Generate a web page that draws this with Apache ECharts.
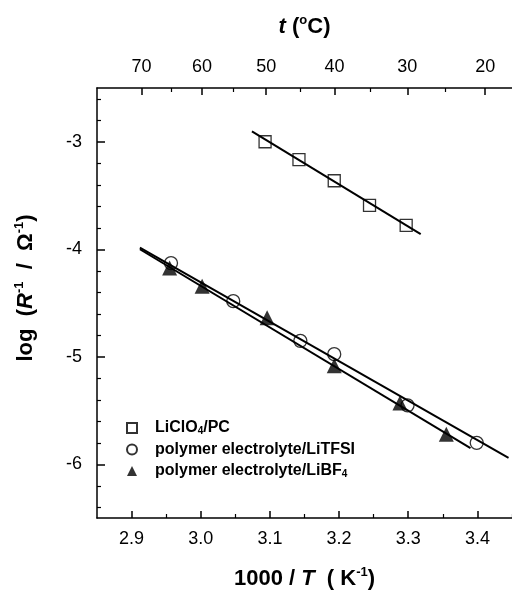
<!DOCTYPE html>
<html>
<head>
<meta charset="utf-8">
<script src="https://cdn.jsdelivr.net/npm/echarts@6/dist/echarts.min.js"></script>
<style>
html,body{margin:0;padding:0;background:#fff;}
#chart{width:512px;height:595px;}
</style>
</head>
<body>
<div id="chart"></div>
<script>
// ---- data ----
const seriesNames = ['LiClO4/PC', 'polymer electrolyte/LiTFSI', 'polymer electrolyte/LiBF4'];
const pcX = [3.093, 3.142, 3.193, 3.244, 3.297];
const pcY = [-3.00, -3.166, -3.363, -3.591, -3.778];
const tfsiX = [2.957, 3.047, 3.144, 3.193, 3.299, 3.399];
const tfsiY = [-4.129, -4.483, -4.852, -4.976, -5.452, -5.801];
const bf4X = [2.955, 3.002, 3.096, 3.193, 3.288, 3.355];
const bf4Y = [-4.175, -4.344, -4.637, -5.083, -5.431, -5.720];
// fitted lines (end points)
const pcFitX = [3.074, 3.318];
const pcFitY = [-2.904, -3.859];
const tfsiFitX = [2.912, 3.445];
const tfsiFitY = [-3.984, -5.94];
const bf4FitX = [2.912, 3.39];
const bf4FitY = [-4.00, -5.85];
// axis ticks
const xMajor = [2.9, 3.0, 3.1, 3.2, 3.3, 3.4];
const xMinor = [2.95, 3.05, 3.15, 3.25, 3.35, 3.45];
const tMajor = [70, 60, 50, 40, 30, 20];
const tMinor = [65, 55, 45, 35, 25];
const yMajor = [-6, -5, -4, -3];
const yMinor = [-6.4, -6.2, -5.8, -5.6, -5.4, -5.2, -4.8, -4.6, -4.4, -4.2, -3.8, -3.6, -3.4, -3.2, -2.8, -2.6];

const toInvT = t => 1000 / (t + 273.15);
const zip = (a, b) => a.map((v, i) => [v, b[i]]);

const FONT = '"Liberation Sans", Arial, Helvetica, sans-serif';
const XMIN = 2.85, XMAX = 3.45, YMIN = -6.5, YMAX = -2.5;

const labelStyle = {color: '#000', fontSize: 18, fontFamily: FONT};
const titleRich = {
  n: {fontSize: 22, fontWeight: 'bold', fontFamily: FONT, color: '#000'},
  i: {fontSize: 22, fontWeight: 'bold', fontStyle: 'italic', fontFamily: FONT, color: '#000'},
  sup: {fontSize: 13, fontWeight: 'bold', fontFamily: FONT, color: '#000', verticalAlign: 'top', lineHeight: 26},
  sub: {fontSize: 11, fontWeight: 'bold', fontFamily: FONT, color: '#000', verticalAlign: 'bottom'}
};

function baseX(extra) {
  return Object.assign({
    type: 'value', min: XMIN, max: XMAX, gridIndex: 0,
    splitLine: {show: false},
    axisLine: {show: false},
    axisTick: {show: false},
    axisLabel: {show: false}
  }, extra);
}
function baseY(extra) {
  return Object.assign({
    type: 'value', min: YMIN, max: YMAX, gridIndex: 0,
    splitLine: {show: false},
    axisLine: {show: false},
    axisTick: {show: false},
    axisLabel: {show: false}
  }, extra);
}

const chart = echarts.init(document.getElementById('chart'), null, {renderer: 'canvas'});

const option = {
  backgroundColor: '#fff',
  animation: false,
  grid: {left: 97, right: -9, top: 88, bottom: 73, containLabel: false},
  legend: {
    orient: 'vertical',
    left: 121, top: 415,
    itemWidth: 10, itemHeight: 10,
    itemGap: 5.5,
    data: [
      {name: seriesNames[0], icon: 'rect'},
      {name: seriesNames[1], icon: 'circle'},
      {name: seriesNames[2], icon: 'triangle'}
    ],
    formatter: function (name) {
      const m = name.match(/^(.*?)(4)(.*)$/);
      if (m) return '{t|' + m[1] + '}{s|' + m[2] + '}' + (m[3] ? '{t|' + m[3] + '}' : '');
      return '{t|' + name + '}';
    },
    textStyle: {
      padding: [0, 0, 0, 13],
      rich: {
        t: {fontSize: 16, fontWeight: 'bold', fontFamily: FONT, color: '#000', lineHeight: 16},
        s: {fontSize: 10, fontWeight: 'bold', fontFamily: FONT, color: '#000', verticalAlign: 'bottom', lineHeight: 16, padding: [6, 0, 0, 0]}
      }
    }
  },
  xAxis: [
    baseX({
      position: 'bottom',
      axisLine: {show: true, lineStyle: {color: '#000', width: 1.5}},
      axisTick: {show: true, inside: true, length: 7, customValues: xMajor, lineStyle: {color: '#000', width: 1.5}},
      axisLabel: {show: true, customValues: xMajor, margin: 12, formatter: v => v.toFixed(1), ...labelStyle},
      name: '{n|1000 / }{i|T}{n|  ( K}{sup|-1}{n|)}',
      nameLocation: 'middle', nameGap: 48,
      nameTextStyle: {rich: titleRich}
    }),
    baseX({
      position: 'bottom',
      axisTick: {show: true, inside: true, length: 4, customValues: xMinor, lineStyle: {color: '#000', width: 1.2}}
    }),
    baseX({
      position: 'top',
      axisLine: {show: true, lineStyle: {color: '#000', width: 1.5}},
      axisTick: {show: true, inside: true, length: 7, customValues: tMajor.map(toInvT), lineStyle: {color: '#000', width: 1.5}},
      axisLabel: {show: true, customValues: tMajor.map(toInvT), margin: 12, formatter: v => String(Math.round(1000 / v - 273.15)), ...labelStyle},
      name: '{i|t}{n| (}{sup|o}{n|C)}',
      nameLocation: 'middle', nameGap: 48,
      nameTextStyle: {rich: titleRich}
    }),
    baseX({
      position: 'top',
      axisTick: {show: true, inside: true, length: 4, customValues: tMinor.map(toInvT), lineStyle: {color: '#000', width: 1.2}}
    })
  ],
  yAxis: [
    baseY({
      position: 'left',
      axisLine: {show: true, lineStyle: {color: '#000', width: 1.5}},
      axisTick: {show: true, inside: true, length: 8, customValues: yMajor, lineStyle: {color: '#000', width: 1.5}},
      axisLabel: {show: true, customValues: yMajor, margin: 15, formatter: v => String(v), ...labelStyle},
      name: '{n|log  (}{i|R}{sup|-1}{n|  /  Ω}{sup|-1}{n|)}',
      nameLocation: 'middle', nameGap: 58,
      nameRotate: 90,
      nameTextStyle: {rich: titleRich, padding: [0, 0, 0, 30]}
    }),
    baseY({
      position: 'left',
      axisTick: {show: true, inside: true, length: 4, customValues: yMinor, lineStyle: {color: '#000', width: 1.2}}
    })
  ],
  series: [
    {
      name: seriesNames[0], type: 'scatter', xAxisIndex: 0, yAxisIndex: 0,
      symbol: 'rect', symbolSize: 12, z: 5,
      itemStyle: {color: 'rgba(0,0,0,0)', borderColor: '#000', borderWidth: 1.3},
      data: zip(pcX, pcY)
    },
    {
      name: seriesNames[1], type: 'scatter', xAxisIndex: 0, yAxisIndex: 0,
      symbol: 'circle', symbolSize: 13, z: 5,
      itemStyle: {color: 'rgba(0,0,0,0)', borderColor: '#000', borderWidth: 1.3},
      data: zip(tfsiX, tfsiY)
    },
    {
      name: seriesNames[2], type: 'scatter', xAxisIndex: 0, yAxisIndex: 0,
      symbol: 'triangle', symbolSize: 15, z: 5,
      itemStyle: {color: '#000', borderColor: '#000', borderWidth: 0},
      data: zip(bf4X, bf4Y)
    },
    {
      name: 'fit PC', type: 'line', xAxisIndex: 0, yAxisIndex: 0, showSymbol: false, symbol: 'none',
      lineStyle: {color: '#000', width: 2}, z: 3,
      data: zip(pcFitX, pcFitY)
    },
    {
      name: 'fit TFSI', type: 'line', xAxisIndex: 0, yAxisIndex: 0, showSymbol: false, symbol: 'none',
      lineStyle: {color: '#000', width: 2}, z: 3,
      data: zip(tfsiFitX, tfsiFitY)
    },
    {
      name: 'fit BF4', type: 'line', xAxisIndex: 0, yAxisIndex: 0, showSymbol: false, symbol: 'none',
      lineStyle: {color: '#000', width: 2}, z: 3,
      data: zip(bf4FitX, bf4FitY)
    }
  ]
};
chart.setOption(option);
</script>
</body>
</html>
